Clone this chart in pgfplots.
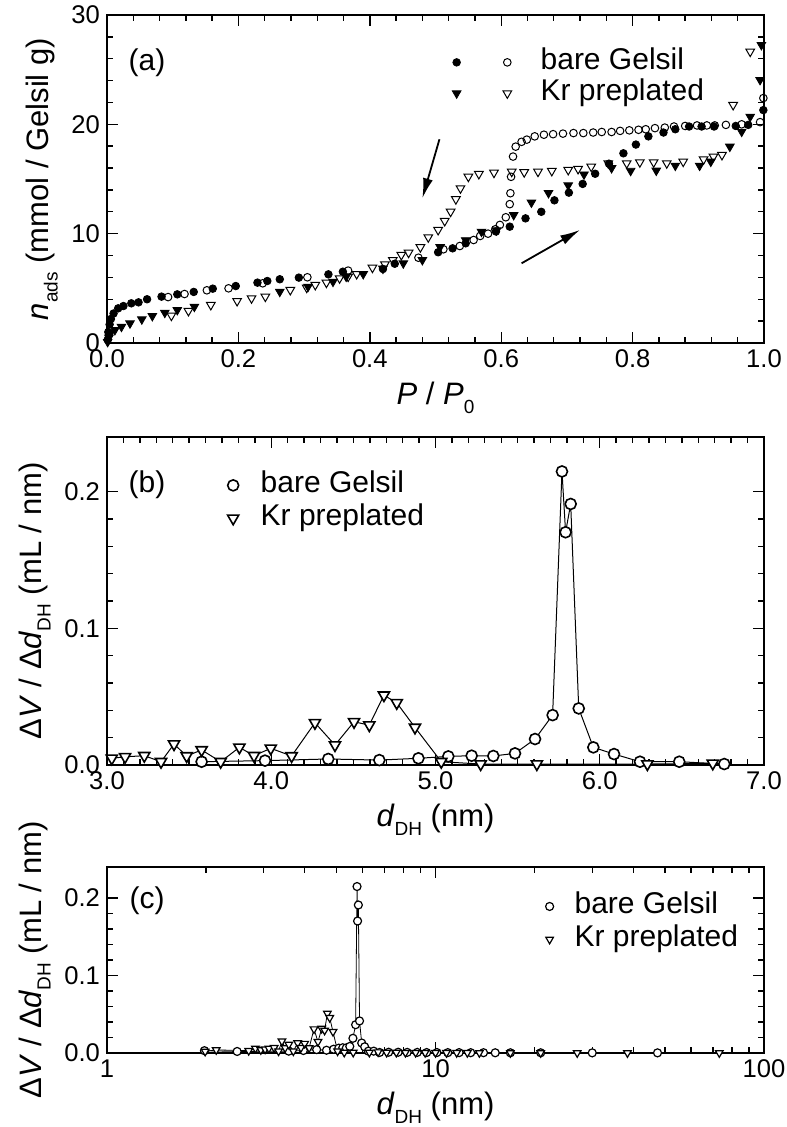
\documentclass[border=0pt]{standalone}
\usepackage{fontspec}
\setmainfont{Liberation Sans}
\usepackage{pgfplots}
\pgfplotsset{compat=1.18}
\usetikzlibrary{arrows.meta}

\newcommand{\lsub}[1]{\raisebox{-0.55ex}{\fontsize{9.5}{9.5}\selectfont #1}}

\pgfplotsset{
  panel/.style={
    scale only axis, width=328.5pt, anchor=north west, clip=false,
    axis line style={line width=1.2pt},
    tick style={black, line width=0.7pt},
    major tick length=5.5pt, minor tick length=3pt,
    tick label style={font=\fontsize{12.8}{14}\selectfont},
    label style={font=\fontsize{15.5}{18}\selectfont},
    /pgf/number format/assume math mode=true,
    legend cell align=left,
    legend image code/.code={\draw[##1] plot coordinates {(0pt,0pt)};},
  },
  onedec/.style={/pgf/number format/fixed, /pgf/number format/fixed zerofill, /pgf/number format/precision=1},
}

\begin{document}
\begin{tikzpicture}
\useasboundingbox (0,0) rectangle (393pt,-563.5pt);

% (a) isotherms
\begin{axis}[panel, at={(53.5pt,-7.5pt)}, height=164pt,
  xmin=0, xmax=1, ymin=0, ymax=30,
  xtick={0,0.2,0.4,0.6,0.8,1}, ytick={0,10,20,30},
  minor x tick num=4, minor y tick num=4,
  xticklabel style={onedec},
  xlabel={\textit{P} / \textit{P}\lsub{0}},
  ylabel={\textit{n}\lsub{ads} (mmol / Gelsil g)},
  legend columns=2,
  legend style={draw=none, fill=none, inner sep=0pt, at={(rel axis cs:0.525,0.901)}, anchor=north west,
    font=\fontsize{15}{17}\selectfont,
    nodes={inner sep=0.5pt, text height=10.5pt, text depth=3pt}, row sep=1pt,
    /tikz/every odd column/.style={column sep=14pt},
    /tikz/every even column/.style={column sep=6pt}},
]
\addplot[only marks, black, mark=*, mark size=1.9pt] coordinates {
(0.001,0.3) (0.002,1.0) (0.004,1.7) (0.006,2.2) (0.010,2.7) (0.017,3.17) (0.025,3.38)
(0.037,3.63) (0.048,3.72) (0.061,4.0) (0.083,4.24) (0.107,4.45) (0.132,4.67) (0.161,4.97)
(0.196,5.21) (0.229,5.52) (0.244,5.67) (0.263,5.83) (0.292,5.98) (0.337,6.28) (0.359,6.52)
(0.42,6.77) (0.438,7.25) (0.504,8.3) (0.526,8.66) (0.546,9.12) (0.592,10.2) (0.613,10.64)
(0.637,11.4) (0.661,12.0) (0.681,13.05) (0.703,13.75) (0.724,14.55) (0.743,15.48) (0.764,16.4)
(0.786,17.35) (0.805,18.15) (0.824,18.9) (0.847,19.25) (0.865,19.55) (0.886,19.8) (0.905,19.8)
(0.924,19.8) (0.957,19.85) (0.976,19.95) (0.999,21.3)
};
\addlegendentry{\mbox{}}
\addplot[only marks, black, mark=o, mark size=1.9pt, mark options={line width=0.5pt}] coordinates {
(0.093,4.2) (0.118,4.48) (0.152,4.82) (0.185,5.0) (0.237,5.46) (0.305,6.01) (0.367,6.62)
(0.474,7.8) (0.512,8.57) (0.537,8.87) (0.558,9.42) (0.568,9.79) (0.58,10.0) (0.591,10.4)
(0.598,10.8) (0.607,11.5) (0.613,12.7) (0.614,13.7) (0.615,15.2) (0.618,17.05) (0.622,17.96)
(0.631,18.4) (0.639,18.6) (0.651,18.9) (0.665,19.05) (0.679,19.1) (0.694,19.15) (0.71,19.2)
(0.725,19.2) (0.74,19.25) (0.753,19.3) (0.768,19.3) (0.781,19.4) (0.795,19.45) (0.809,19.5)
(0.82,19.55) (0.834,19.65) (0.849,19.7) (0.863,19.8) (0.88,19.85) (0.898,19.9) (0.913,19.9)
(0.925,19.9) (0.942,19.95) (0.966,20.0) (0.994,20.2) (0.999,22.4)
};
\addlegendentry{bare Gelsil}
\addplot[only marks, black, mark=triangle*, mark size=2.5pt, mark options={rotate=180}] coordinates {
(0.001,0.1) (0.003,0.5) (0.005,0.89) (0.012,1.19) (0.022,1.49) (0.035,1.8) (0.053,2.17)
(0.069,2.47) (0.088,2.77) (0.107,3.02) (0.133,3.32) (0.263,4.69) (0.306,5.15) (0.344,5.61)
(0.364,6.07) (0.39,6.31) (0.42,6.8) (0.451,7.29) (0.48,7.59) (0.507,8.78) (0.546,9.4)
(0.57,10.18) (0.593,10.3) (0.619,11.71) (0.646,12.85) (0.672,13.72) (0.702,14.42) (0.726,15.42)
(0.768,16.0) (0.797,15.75) (0.836,15.77) (0.865,16.22) (0.902,16.22) (0.919,16.59) (0.948,17.96)
(0.966,19.33) (0.979,20.7) (0.994,24.06) (0.996,27.26)
};
\addlegendentry{\mbox{}}
\addplot[only marks, black, mark=triangle, mark size=2.5pt, mark options={rotate=180, line width=0.5pt}] coordinates {
(0.098,2.5) (0.124,2.93) (0.158,3.48) (0.198,3.84) (0.22,4.09) (0.241,4.24) (0.279,4.85)
(0.304,5.06) (0.317,5.31) (0.334,5.52) (0.354,5.92) (0.367,6.07) (0.38,6.31) (0.404,6.89)
(0.423,7.2) (0.435,7.59) (0.448,8.05) (0.459,8.26) (0.477,8.76) (0.489,9.67) (0.504,10.34)
(0.514,11.16) (0.523,12.01) (0.531,13.15) (0.538,14.15) (0.55,15.21) (0.566,15.46) (0.589,15.58)
(0.616,15.67) (0.635,15.62) (0.656,15.67) (0.677,15.74) (0.702,15.83) (0.717,15.92) (0.737,16.13)
(0.763,16.44) (0.791,16.44) (0.811,16.53) (0.832,16.53) (0.852,16.44) (0.877,16.59) (0.908,16.8)
(0.923,17.05) (0.936,17.2) (0.953,21.77) (0.979,26.65)
};
\addlegendentry{Kr preplated}
\draw[-{Latex[length=10pt,width=5pt]}, line width=0.9pt] (axis cs:0.506,18.63) -- (axis cs:0.48,13.24);
\draw[-{Latex[length=10pt,width=5pt]}, line width=0.9pt] (axis cs:0.631,7.29) -- (axis cs:0.72,10.34);
\node[font=\fontsize{15}{17}\selectfont] at (rel axis cs:0.061,0.854) {(a)};
\end{axis}

% (b) pore size distribution, linear
\begin{axis}[panel, at={(53.5pt,-218.5pt)}, height=164pt,
  xmin=3, xmax=7, ymin=0, ymax=0.24,
  xtick={3,4,5,6,7}, ytick={0,0.1,0.2},
  minor x tick num=9, minor y tick num=4,
  xticklabel style={onedec}, yticklabel style={onedec},
  xlabel={\textit{d}\lsub{DH} (nm)},
  ylabel={Δ\textit{V} / Δ\textit{d}\lsub{DH} (mL / nm)},
  legend style={draw=none, fill=none, inner sep=0pt, at={(rel axis cs:0.183,0.898)}, anchor=north west,
    font=\fontsize{15}{17}\selectfont,
    nodes={inner sep=0.5pt, text height=10.5pt, text depth=3pt}, row sep=2pt,
    /tikz/every odd column/.style={column sep=10.5pt}},
]
\addplot[black, line width=0.5pt, mark=*, mark size=2.75pt, mark options={fill=white, line width=0.8pt}] coordinates {
(3.576,0.0024) (3.962,0.0032) (4.347,0.0044) (4.658,0.0036) (4.896,0.0049) (5.078,0.0063)
(5.22,0.0068) (5.352,0.0066) (5.484,0.0085) (5.606,0.019) (5.713,0.0365) (5.77,0.2148)
(5.792,0.1703) (5.823,0.191) (5.872,0.0414) (5.961,0.0129) (6.087,0.008) (6.245,0.0024)
(6.484,0.0024) (6.758,0.0007)
};
\addlegendentry{bare Gelsil}
\addplot[black, line width=0.5pt, mark=triangle*, mark size=3.2pt, mark options={fill=white, rotate=180, line width=0.8pt}] coordinates {
(3.029,0.0049) (3.11,0.006) (3.227,0.0068) (3.329,0.0024) (3.408,0.0153) (3.485,0.0066)
(3.576,0.011) (3.692,0.0024) (3.806,0.0129) (3.895,0.0068) (3.997,0.0122) (4.124,0.0066)
(4.266,0.0309) (4.388,0.0146) (4.504,0.0316) (4.597,0.0292) (4.686,0.0511) (4.764,0.0455)
(4.875,0.0275) (5.035,0.0024) (5.275,0.0007) (5.617,0.0007) (6.29,0.0007) (6.688,0.0012)
};
\addlegendentry{Kr preplated}
\node[font=\fontsize{15}{17}\selectfont] at (rel axis cs:0.061,0.854) {(b)};
\end{axis}

% (c) pore size distribution, log
\begin{axis}[panel, at={(53.5pt,-433.5pt)}, height=93pt,
  xmode=log, xmin=1, xmax=100, ymin=0, ymax=0.24,
  xtick={1,10,100}, xticklabels={1,10,100}, ytick={0,0.1,0.2},
  minor y tick num=4, yticklabel style={onedec},
  xlabel={\textit{d}\lsub{DH} (nm)},
  ylabel={Δ\textit{V} / Δ\textit{d}\lsub{DH} (mL / nm)},
  legend style={draw=none, fill=none, inner sep=0pt, at={(rel axis cs:0.667,0.868)}, anchor=north west,
    font=\fontsize{15}{17}\selectfont,
    nodes={inner sep=0.5pt, text height=10.5pt, text depth=3pt}, row sep=2pt,
    /tikz/every odd column/.style={column sep=10pt}},
]
\addplot[black, line width=0.4pt, mark=*, mark size=2pt, mark options={fill=white, line width=0.6pt}] coordinates {
(1.98,0.003) (2.49,0.002) (3.576,0.0024) (3.962,0.0032) (4.347,0.0044) (4.658,0.0036)
(4.896,0.0049) (5.078,0.0063) (5.22,0.0068) (5.352,0.0066) (5.484,0.0085) (5.606,0.019)
(5.713,0.0365) (5.77,0.2148) (5.792,0.1703) (5.823,0.191) (5.872,0.0414) (5.961,0.0129)
(6.087,0.008) (6.245,0.0024) (6.484,0.0024) (6.758,0.0007) (7.2,0.001) (7.7,0.001)
(8.2,0.0008) (8.8,0.0008) (9.4,0.0006) (10.1,0.0006) (10.9,0.0005) (11.8,0.0005)
(12.8,0.0004) (14.0,0.0004) (15.2,0.0003) (16.9,0.0003) (20.9,0.0003) (30.0,0.0002)
(47.4,0.0002)
};
\addlegendentry{bare Gelsil}
\addplot[black, line width=0.4pt, mark=triangle*, mark size=2.2pt, mark options={fill=white, rotate=180, line width=0.6pt}] coordinates {
(1.99,0.002) (2.15,0.004) (2.70,0.003) (2.83,0.006) (2.94,0.004) (3.029,0.0049) (3.11,0.006)
(3.227,0.0068) (3.329,0.0024) (3.408,0.0153) (3.485,0.0066) (3.576,0.011) (3.692,0.0024)
(3.806,0.0129) (3.895,0.0068) (3.997,0.0122) (4.124,0.0066) (4.266,0.0309) (4.388,0.0146)
(4.504,0.0316) (4.597,0.0292) (4.686,0.0511) (4.764,0.0455) (4.875,0.0275) (5.035,0.0024)
(5.275,0.0007) (5.617,0.0007) (6.29,0.0007) (6.688,0.0012) (7.1,0.0006) (7.6,0.0006)
(8.1,0.0005) (8.7,0.0005) (9.3,0.0004) (10.0,0.0004) (10.8,0.0003) (11.6,0.0003)
(12.5,0.0003) (13.6,0.0002) (16.9,0.0002) (20.9,0.0002) (27.0,0.0001) (38.4,0.0001)
(73.1,0.0001)
};
\addlegendentry{Kr preplated}
\node[font=\fontsize{15}{17}\selectfont] at (rel axis cs:0.061,0.817) {(c)};
\end{axis}
\end{tikzpicture}
\end{document}
